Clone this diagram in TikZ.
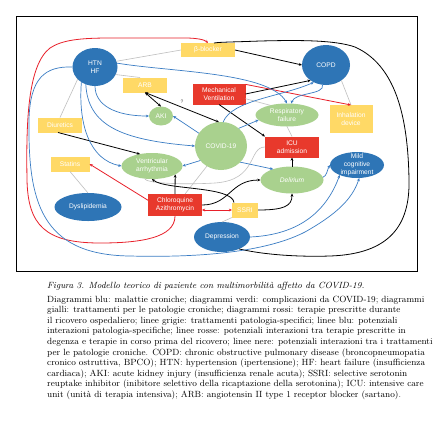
\documentclass[tikz,border=0pt]{standalone}
\usepackage{fontspec}
\newfontfamily\dfont{Liberation Sans}
\usetikzlibrary{shapes.geometric,arrows.meta}
\definecolor{cblue}{HTML}{2E75B6}
\definecolor{cgreen}{HTML}{A9D18E}
\definecolor{cyellow}{HTML}{FFD966}
\definecolor{cred}{HTML}{E8392C}
\definecolor{lblue}{HTML}{3B7DC4}
\definecolor{lgray}{HTML}{BFBFBF}
\definecolor{lred}{HTML}{E8202A}
\tikzset{
  >={Stealth[length=3.2bp,width=2.8bp]},
  base/.style={inner sep=0pt, outer sep=0pt, align=center, text=white, font={\dfont\fontsize{6.7}{8}\selectfont}},
  dis/.style={base, ellipse, fill=cblue, inner sep=-2bp},
  comp/.style={base, ellipse, fill=cgreen, inner sep=-2bp},
  trt/.style={base, rectangle, fill=cyellow},
  hosp/.style={base, rectangle, fill=cred},
  gline/.style={lgray, line width=0.6bp},
  bline/.style={lblue, line width=0.7bp},
  kline/.style={black, line width=0.8bp},
  rline/.style={lred, line width=0.8bp},
  qlab/.style={font={\dfont\fontsize{5}{6}\selectfont}, text=black!70, inner sep=0.5bp},
  captxt/.style={inner sep=0pt, anchor=north west, align=left, font={\fontsize{9}{10.65}\selectfont}}
}
\begin{document}
\begin{tikzpicture}[x=1bp,y=-1bp]
\useasboundingbox (0,0) rectangle (434,423);
\fill[white] (0,0) rectangle (434,423);
\draw[line width=0.9bp] (16,16) rectangle (417,271);

% nodes
\node[dis, minimum width=45bp, minimum height=38bp] (htn) at (95,67) {HTN\\HF};
\node[trt, minimum width=54bp, minimum height=14bp] (bb) at (208,50) {β-blocker};
\node[dis, minimum width=48bp, minimum height=40bp] (copd) at (326,65) {COPD};
\node[trt, minimum width=44bp, minimum height=15bp] (arb) at (145,85) {ARB};
\node[hosp, minimum width=53bp, minimum height=21bp] (mv) at (219,94) {Mechanical\\Ventilation};
\node[comp, minimum width=63bp, minimum height=23bp] (rf) at (287,115) {Respiratory\\failure};
\node[trt, minimum width=43bp, minimum height=28bp] (inh) at (351,119) {Inhalation\\device};
\node[comp, minimum width=24bp, minimum height=19bp] (aki) at (161,116) {AKI};
\node[comp, minimum width=52bp, minimum height=48bp] (covid) at (221,146) {COVID-19};
\node[hosp, minimum width=54bp, minimum height=21bp] (icu) at (292,147) {ICU\\admission};
\node[trt, minimum width=44bp, minimum height=15bp] (diu) at (60,125) {Diuretics};
\node[trt, minimum width=39bp, minimum height=15bp] (sta) at (70,164) {Statins};
\node[comp, minimum width=61bp, minimum height=26bp] (va) at (152,166) {Ventricular\\arrhythmia};
\node[dis, minimum width=54bp, minimum height=26bp, inner sep=-4bp] (mci) at (357,165) {Mild\\cognitive\\impairment};
\node[comp, minimum width=63bp, minimum height=27bp] (del) at (292,180) {\itshape Delirium};
\node[dis, minimum width=67bp, minimum height=28bp] (dys) at (88,207) {Dyslipidemia};
\node[hosp, minimum width=54bp, minimum height=22bp] (cq) at (175,205) {Chloroquine\\Azithromycin};
\node[trt, minimum width=26bp, minimum height=15bp] (ssri) at (245,210) {SSRI};
\node[dis, minimum width=56bp, minimum height=30bp] (dep) at (222,237) {Depression};

% gray lines
\draw[gline] (htn.15) -- (bb.west);
\draw[gline] (htn.-20) -- ([xshift=-5bp]arb.north);
\draw[gline] (htn.215) -- (diu.north);
\draw[gline] (copd.-45) -- (inh.north);
\draw[gline] (dys.north) -- (sta.south);
\draw[gline] (dep.north) -- (ssri.south west);
\draw[gline] (mv.-10) -- (rf.150);
\draw[gline] (rf.south) -- (icu.north);
\draw[gline] (covid.235) -- ([xshift=10bp]cq.north);
\draw[gline] (icu.west) .. controls (248,147) and (258,180) .. (215,183) .. controls (180,185) and (145,183) .. (va.-120);

% black lines
\draw[kline,->] (bb.east) -- (copd.west);
\draw[kline,->] (mv.east) -- (copd.225);
\draw[kline,->] (mv.south) -- (icu.north west);
\draw[kline,->] ([xshift=-2bp]diu.south) -- (va.135);
\draw[kline,<->] (arb.south) -- (aki.north);
\draw[kline,<->] (arb.south) -- node[qlab, pos=0.5, above=3bp] (q) {?} (covid.95);
\draw[kline,->] (cq.north) -- (va.-20);
\draw[kline,->] (cq.east) .. controls (230,205) and (230,180) .. (del.west);
\draw[kline,->] ([xshift=2bp]ssri.north west) .. controls (232,186) and (165,190) .. (va.south);
\draw[kline,->] (ssri.east) .. controls (284,210) and (292,206) .. (del.south);
\draw[kline,->] (del.north) -- (icu.south);
\draw[kline] (dep.-35) .. controls (265,255) and (300,257) .. (330,256) .. controls (390,254) and (410,225) .. (409,180) .. controls (408,115) and (395,65) .. (355,47) .. controls (335,40) and (300,40) .. (260,41) .. controls (235,42) and (220,42) .. ([xshift=6bp]bb.north);

% red lines
\draw[rline,->] (cq.170) -- (sta.east);
\draw[rline,<->] (ssri.west) -- (ssri.west -| cq.east);
\draw[rline,->] (mv.20) -- (inh.north);
\draw[rline,->] (cq.south) .. controls (175,238) and (140,243) .. (100,243) .. controls (45,243) and (28,225) .. (27,180) .. controls (26,120) and (28,65) .. (50,48) .. controls (62,40) and (80,38) .. (110,38) -- (185,38) .. controls (198,38) and (205,40) .. (bb.north);

% blue lines
\draw[bline,->] (htn.south) .. controls (95,105) and (115,116) .. (aki.west);
\draw[bline,->] (covid.150) -- (aki.east);
\draw[bline,->] (htn.10) .. controls (170,72) and (270,72) .. (rf.north);
\draw[bline,->] (copd.-100) .. controls (325,95) and (295,92) .. (rf.70);
\draw[bline,->] (covid.85) .. controls (232,100) and (280,97) .. (copd.235);
\draw[bline,->] (covid.45) -- (rf.190);
\draw[bline,->] (htn.228) .. controls (78,125) and (90,160) .. (va.west);
\draw[bline,->] (htn.242) .. controls (88,125) and (120,140) .. (covid.west);
\draw[bline,->] (covid.215) -- (va.east);
\draw[bline,->] (covid.-40) -- (del.150);
\draw[bline,->] (del.5) .. controls (327,176) and (327,170) .. (mci.west);
\draw[bline,->] (htn.west) .. controls (45,66) and (30,78) .. (29,120) .. controls (28,200) and (40,255) .. (130,256) .. controls (210,258) and (270,250) .. (305,232) .. controls (335,215) and (352,200) .. (mci.-80);
\draw[bline,->] (dep.east) .. controls (295,235) and (325,215) .. (mci.-150);

% caption and legend
\node[captxt] (cap) at (47,281.5) {\itshape Figura 3. Modello teorico di paziente con multimorbilità affetto da COVID-19.};
\node[captxt] (leg) at (47,295.5) {Diagrammi blu: malattie croniche; diagrammi verdi: complicazioni da COVID-19; diagrammi\\
gialli: trattamenti per le patologie croniche; diagrammi rossi: terapie prescritte durante\\
il ricovero ospedaliero; linee grigie: trattamenti patologia-specifici; linee blu: potenziali\\
interazioni patologia-specifiche; linee rosse: potenziali interazioni tra terapie prescritte in\\
degenza e terapie in corso prima del ricovero; linee nere: potenziali interazioni tra i trattamenti\\
per le patologie croniche. COPD: chronic obstructive pulmonary disease (broncopneumopatia\\
cronico ostruttiva, BPCO); HTN: hypertension (ipertensione); HF: heart failure (insufficienza\\
cardiaca); AKI: acute kidney injury (insufficienza renale acuta); SSRI: selective serotonin\\
reuptake inhibitor (inibitore selettivo della ricaptazione della serotonina); ICU: intensive care\\
unit (unità di terapia intensiva); ARB: angiotensin II type 1 receptor blocker (sartano).};
\end{tikzpicture}
\end{document}
